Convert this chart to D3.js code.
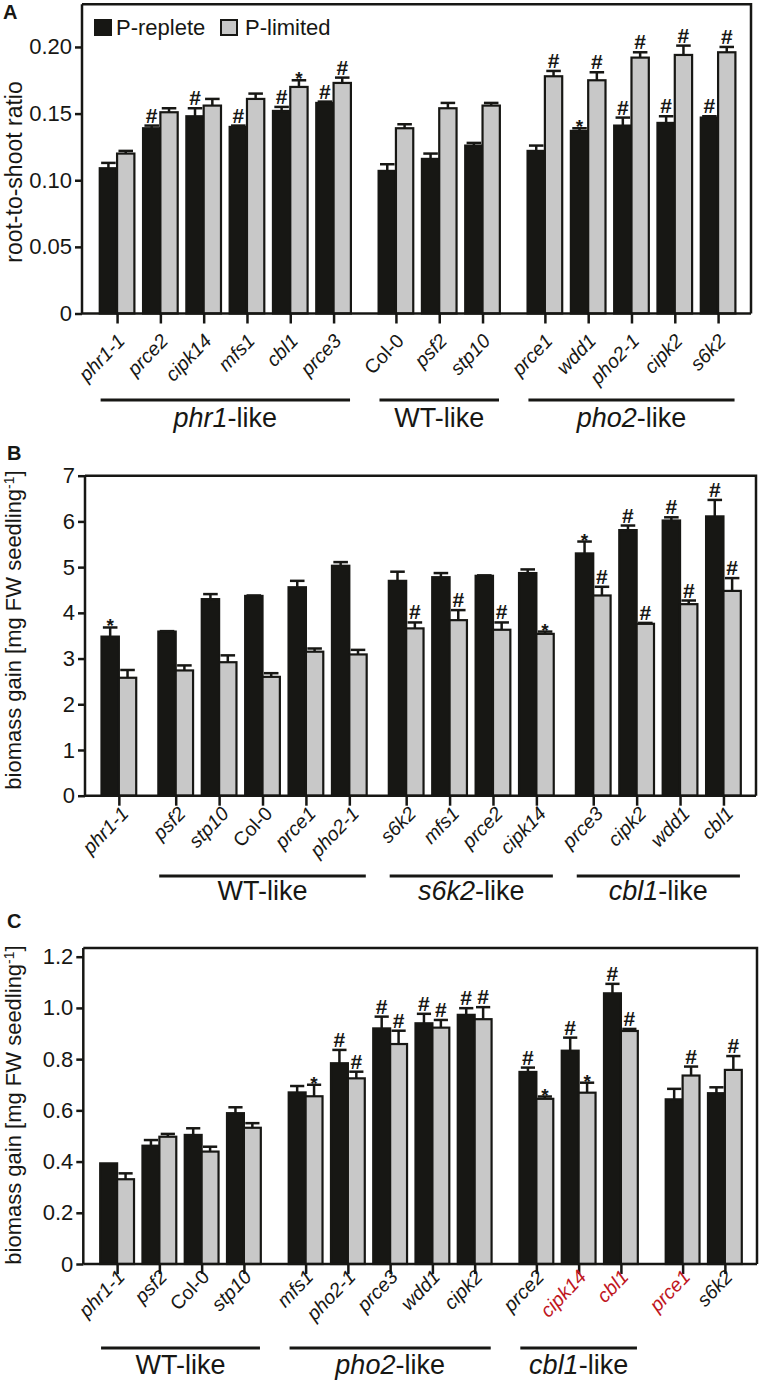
<!DOCTYPE html>
<html><head><meta charset="utf-8">
<script src="https://cdn.jsdelivr.net/npm/d3@7"></script>
<style>
body{margin:0;background:#fff;}
svg{display:block;font-family:"Liberation Sans",Arial,Helvetica,sans-serif;}
</style></head><body>
<svg id="chart" width="762" height="1384"></svg>
<script>
// ================= DATA =================
const seriesNames = ["P-replete", "P-limited"];
const uprightLabels = ["Col-0"];

// ---- Panel A: root-to-shoot ratio ----
const catsA = ["phr1-1","prce2","cipk14","mfs1","cbl1","prce3","Col-0","psf2","stp10","prce1","wdd1","pho2-1","cipk2","s6k2"];
const groupOfA = [0,0,0,0,0,0,1,1,1,2,2,2,2,2];
const groupLabelsA = [["phr1","-like"],["","WT-like"],["pho2","-like"]];
const repleteA    = [0.109,0.139,0.148,0.140,0.152,0.158,0.107,0.116,0.126,0.122,0.137,0.141,0.143,0.147];
const repleteErrA = [0.004,0.002,0.006,0.001,0.003,0.001,0.005,0.004,0.002,0.004,0.002,0.006,0.005,0.001];
const limitedA    = [0.120,0.151,0.156,0.161,0.170,0.173,0.139,0.154,0.156,0.178,0.175,0.192,0.194,0.196];
const limitedErrA = [0.002,0.003,0.005,0.004,0.005,0.004,0.003,0.004,0.002,0.004,0.006,0.004,0.007,0.004];
const sigRepA = ["","#","#","#","#","#","","","","","*","#","#","#"];
const sigLimA = ["","","","","*","#","","","","#","#","#","#","#"];
const yTicksA = [0,0.05,0.10,0.15,0.20];
const yTickLabelsA = ["0","0.05","0.10","0.15","0.20"];
const yMaxA = 0.232;

// ---- Panel B: biomass gain ----
const catsB = ["phr1-1","psf2","stp10","Col-0","prce1","pho2-1","s6k2","mfs1","prce2","cipk14","prce3","cipk2","wdd1","cbl1"];
const groupOfB = [0,1,1,1,1,1,2,2,2,2,3,3,3,3];
const groupLabelsB = [null,["","WT-like"],["s6k2","-like"],["cbl1","-like"]];
const repleteB    = [3.48,3.59,4.30,4.37,4.56,5.03,4.70,4.78,4.81,4.87,5.30,5.81,6.02,6.11];
const repleteErrB = [0.20,0.01,0.11,0.01,0.14,0.08,0.20,0.09,0.01,0.08,0.26,0.10,0.07,0.36];
const limitedB    = [2.58,2.74,2.92,2.60,3.15,3.09,3.66,3.84,3.63,3.54,4.38,3.76,4.19,4.48];
const limitedErrB = [0.17,0.11,0.15,0.08,0.07,0.10,0.13,0.22,0.16,0.05,0.19,0.02,0.08,0.28];
const sigRepB = ["*","","","","","","","","","","*","#","#","#"];
const sigLimB = ["","","","","","","#","#","#","*","#","#","#","#"];
const yTicksB = [0,1,2,3,4,5,6,7];
const yTickLabelsB = ["0","1","2","3","4","5","6","7"];
const yMaxB = 7;

// ---- Panel C: biomass gain ----
const catsC = ["phr1-1","psf2","Col-0","stp10","mfs1","pho2-1","prce3","wdd1","cipk2","prce2","cipk14","cbl1","prce1","s6k2"];
const groupOfC = [0,0,0,0,1,1,1,1,1,2,2,2,3,3];
const groupLabelsC = [["","WT-like"],["pho2","-like"],["cbl1","-like"],null];
const redLabelsC = ["cipk14","cbl1","prce1"];
const repleteC    = [0.393,0.462,0.504,0.589,0.670,0.784,0.920,0.940,0.973,0.750,0.833,1.057,0.643,0.667];
const repleteErrC = [0.000,0.022,0.026,0.023,0.025,0.052,0.046,0.037,0.026,0.017,0.051,0.037,0.041,0.023];
const limitedC    = [0.331,0.497,0.439,0.532,0.655,0.725,0.859,0.923,0.956,0.645,0.669,0.910,0.736,0.758];
const limitedErrC = [0.023,0.011,0.019,0.018,0.045,0.026,0.052,0.030,0.047,0.009,0.039,0.008,0.035,0.054];
const sigRepC = ["","","","","","#","#","#","#","#","#","#","",""];
const sigLimC = ["","","","","*","#","#","#","#","*","*","#","#","#"];
const yTicksC = [0,0.2,0.4,0.6,0.8,1.0,1.2];
const yTickLabelsC = ["0","0.2","0.4","0.6","0.8","1.0","1.2"];
const yMaxC = 1.234;

const yTitleA = "root-to-shoot ratio";
const yTitleBC = ["biomass gain [mg FW seedling", "-1", "]"];

// ================= STYLE / LAYOUT =================
const BLACK = "#171714", GREY = "#c8c8c8", RED = "#c0161e";
const svg = d3.select("#chart");

function panel(cfg) {
  const n = cfg.cats.length;
  const slot = cfg.cats.map((c, i) => i + cfg.groupOf[i] * cfg.gap);
  const x = d3.scaleLinear()
    .domain([-cfg.pad[0], slot[n - 1] + cfg.pad[1]])
    .range([cfg.left, cfg.right]);
  const y = d3.scaleLinear().domain([0, cfg.yMax]).range([cfg.zero, cfg.top]);
  const unit = x(1) - x(0);
  const bw = unit * 0.4;
  const g = svg.append("g");

  const series = [
    {vals: cfg.rep, errs: cfg.repErr, sig: cfg.sigRep, fill: BLACK, off: -1},
    {vals: cfg.lim, errs: cfg.limErr, sig: cfg.sigLim, fill: GREY, off: 0}
  ];
  series.forEach(s => {
    const gs = g.append("g");
    gs.selectAll("rect").data(s.vals).join("rect")
      .attr("x", (d, i) => x(slot[i]) + s.off * bw)
      .attr("y", d => y(d))
      .attr("width", bw)
      .attr("height", d => cfg.zero - y(d))
      .attr("fill", s.fill).attr("stroke", BLACK).attr("stroke-width", 2.2);
    s.vals.forEach((v, i) => {
      const cx = x(slot[i]) + s.off * bw + bw / 2;
      const e = s.errs[i];
      const yt = y(v + e);
      if (e > 0) {
        gs.append("line").attr("x1", cx).attr("x2", cx).attr("y1", y(v)).attr("y2", yt)
          .attr("stroke", BLACK).attr("stroke-width", 2.5);
        gs.append("line").attr("x1", cx - bw * 0.42).attr("x2", cx + bw * 0.42)
          .attr("y1", yt).attr("y2", yt).attr("stroke", BLACK).attr("stroke-width", 2.5);
      }
      const sg = s.sig[i];
      if (sg === "#") {
        gs.append("text").attr("x", cx).attr("y", yt - 3).attr("text-anchor", "middle")
          .attr("font-weight", "bold").attr("font-size", 21).attr("fill", BLACK).text("#");
      } else if (sg === "*") {
        gs.append("text").attr("x", cx).attr("y", yt + 5).attr("text-anchor", "middle")
          .attr("font-weight", "bold").attr("font-size", 19).attr("fill", BLACK).text("*");
      }
    });
  });

  g.append("path")
    .attr("d", `M${cfg.left},${cfg.top}H${cfg.right}V${cfg.zero}`)
    .attr("fill", "none").attr("stroke", BLACK).attr("stroke-width", 2.5);

  const ya = g.append("g").attr("transform", `translate(${cfg.left},0)`)
    .call(d3.axisLeft(y).tickValues(cfg.yTicks)
      .tickFormat((d, i) => cfg.yTickLabels[i]).tickSize(7).tickPadding(3).tickSizeOuter(0));
  ya.select(".domain").attr("d", `M0,${cfg.top}V${cfg.zero}`).attr("stroke", BLACK).attr("stroke-width", 2.5);
  ya.selectAll(".tick line").attr("stroke", BLACK).attr("stroke-width", 2.5);
  ya.selectAll(".tick text").attr("font-size", 22).attr("fill", BLACK)
    .attr("font-family", "'Liberation Sans',Arial,sans-serif");

  const xa = g.append("g").attr("transform", `translate(0,${cfg.zero})`)
    .call(d3.axisBottom(x).tickValues(slot).tickFormat("").tickSize(10).tickSizeOuter(0));
  xa.select(".domain").attr("d", `M${cfg.left},0H${cfg.right}`).attr("stroke", BLACK).attr("stroke-width", 2.5);
  xa.selectAll(".tick line").attr("stroke", BLACK).attr("stroke-width", 2.5);

  g.append("g").selectAll("text").data(cfg.cats).join("text")
    .attr("transform", (d, i) => `translate(${x(slot[i]) + cfg.labelDx},${cfg.zero + cfg.labelDy}) rotate(-46)`)
    .attr("text-anchor", "end")
    .attr("font-size", 19.5)
    .attr("font-style", d => uprightLabels.includes(d) ? "normal" : "italic")
    .attr("fill", d => (cfg.red || []).includes(d) ? RED : BLACK)
    .text(d => d);

  cfg.groupLabels.forEach((gl, gi) => {
    if (!gl) return;
    const idx = cfg.groupOf.map((gg, i) => gg === gi ? i : -1).filter(i => i >= 0);
    const x0 = x(slot[idx[0]] - 0.38), x1 = x(slot[idx[idx.length - 1]] + 0.38);
    g.append("line").attr("x1", x0).attr("x2", x1).attr("y1", cfg.lineY).attr("y2", cfg.lineY)
      .attr("stroke", BLACK).attr("stroke-width", 3);
    const t = g.append("text").attr("x", (x0 + x1) / 2).attr("y", cfg.groupY)
      .attr("text-anchor", "middle").attr("font-size", 27).attr("fill", BLACK);
    if (gl[0]) t.append("tspan").attr("font-style", "italic").text(gl[0]);
    t.append("tspan").text(gl[1]);
  });

  const tt = g.append("text")
    .attr("transform", `translate(${cfg.titleX},${cfg.titleY}) rotate(-90)`)
    .attr("text-anchor", "middle").attr("font-size", cfg.titleSize).attr("fill", BLACK);
  if (Array.isArray(cfg.title)) {
    tt.append("tspan").text(cfg.title[0]);
    tt.append("tspan").attr("dy", -7).attr("font-size", 14).text(cfg.title[1]);
    tt.append("tspan").attr("dy", 7).text(cfg.title[2]);
  } else tt.text(cfg.title);

  g.append("text").attr("x", cfg.letterX).attr("y", cfg.letterY)
    .attr("font-weight", "bold").attr("font-size", 20).attr("fill", BLACK).text(cfg.letter);

  return {x, y};
}

panel({cats: catsA, groupOf: groupOfA, groupLabels: groupLabelsA,
  rep: repleteA, repErr: repleteErrA, lim: limitedA, limErr: limitedErrA, sigRep: sigRepA, sigLim: sigLimA,
  yTicks: yTicksA, yTickLabels: yTickLabelsA, yMax: yMaxA,
  left: 82, right: 751, top: 4.3, zero: 313.5, pad: [0.81, 0.76], gap: 0.44,
  labelDx: 9, labelDy: 28.5, lineY: 400, groupY: 427,
  title: yTitleA, titleSize: 23, titleX: 22, titleY: 172, letter: "A", letterX: 3, letterY: 19});

panel({cats: catsB, groupOf: groupOfB, groupLabels: groupLabelsB,
  rep: repleteB, repErr: repleteErrB, lim: limitedB, limErr: limitedErrB, sigRep: sigRepB, sigLim: sigLimB,
  yTicks: yTicksB, yTickLabels: yTickLabelsB, yMax: yMaxB,
  left: 85, right: 756, top: 475.7, zero: 795.7, pad: [0.78, 0.75], gap: 0.31,
  labelDx: 11, labelDy: 19, lineY: 876, groupY: 900,
  title: yTitleBC, titleSize: 22, titleX: 21, titleY: 630, letter: "B", letterX: 7, letterY: 460});

panel({cats: catsC, groupOf: groupOfC, groupLabels: groupLabelsC, red: redLabelsC,
  rep: repleteC, repErr: repleteErrC, lim: limitedC, limErr: limitedErrC, sigRep: sigRepC, sigLim: sigLimC,
  yTicks: yTicksC, yTickLabels: yTickLabelsC, yMax: yMaxC,
  left: 83.3, right: 757, top: 948, zero: 1264, pad: [0.80, 0.76], gap: 0.46,
  labelDx: 9, labelDy: 14, lineY: 1348, groupY: 1374,
  title: yTitleBC, titleSize: 22, titleX: 21, titleY: 1105, letter: "C", letterX: 7, letterY: 928});

const leg = svg.append("g");
const legX = [95, 221], legTextX = [116, 245];
seriesNames.forEach((nm, i) => {
  leg.append("rect").attr("x", legX[i]).attr("y", 20).attr("width", 16).attr("height", 15)
    .attr("fill", i === 0 ? BLACK : GREY).attr("stroke", BLACK).attr("stroke-width", 2);
  leg.append("text").attr("x", legTextX[i]).attr("y", 35).attr("font-size", 22).attr("fill", BLACK).text(nm);
});
</script>
</body></html>
